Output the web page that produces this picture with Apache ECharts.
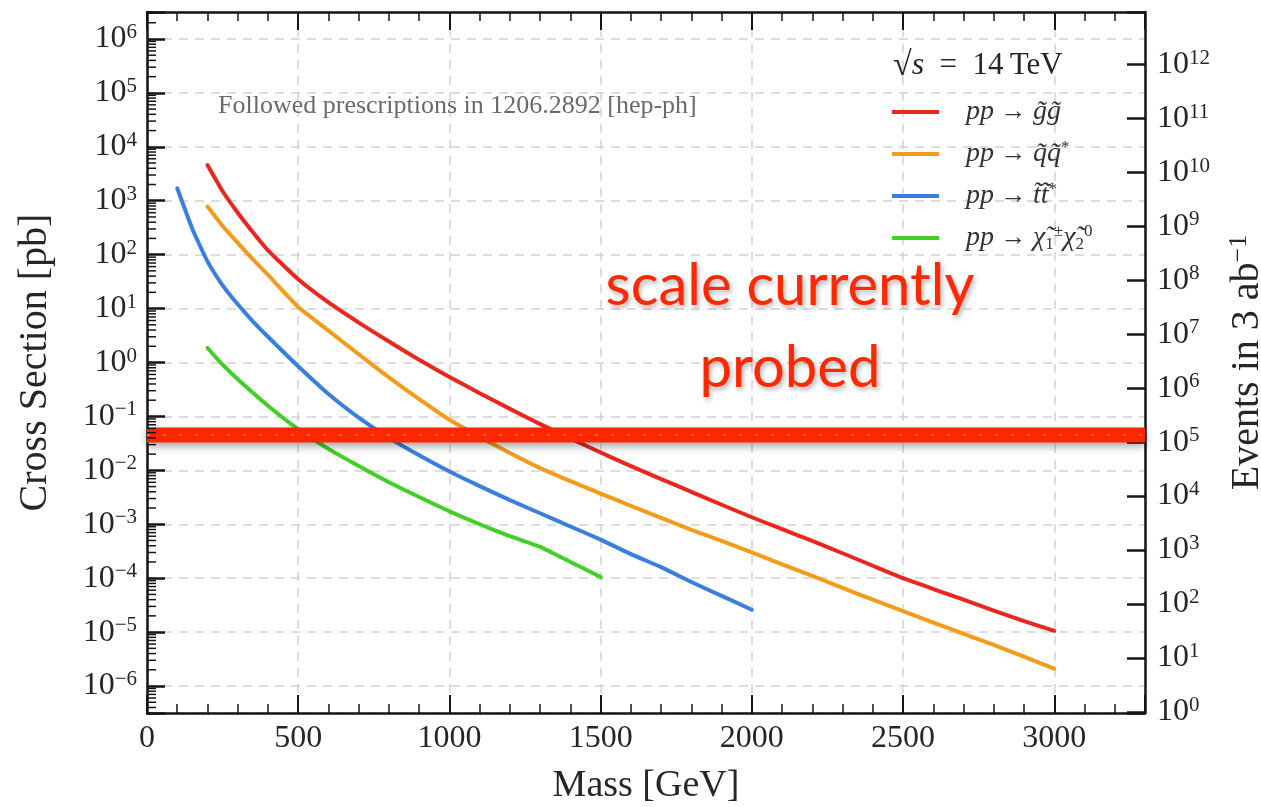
<!DOCTYPE html>
<html>
<head>
<meta charset="utf-8">
<script src="https://cdn.jsdelivr.net/npm/echarts@6/dist/echarts.min.js"></script>
<style>
  html, body { margin: 0; padding: 0; background: #ffffff; }
  #chart { width: 1261px; height: 807px; }
</style>
</head>
<body>
<div id="chart"></div>
<script>
// SUSY pair-production cross sections at sqrt(s) = 14 TeV versus sparticle mass.
const SERIF = '"Liberation Serif", "DejaVu Serif", "Times New Roman", serif';

// Integrated luminosity of 3 ab^-1 expressed in pb^-1 (events = sigma[pb] * lumi)
const LUMI_INV_PB = 3e6;

// Vertical range of the cross-section axis, in decades (log10 pb)
const Y_LOG_MIN = -6.5;
const Y_LOG_MAX = 6.5;
const X_MIN = 0;
const X_MAX = 3300;

// pp -> gluino gluino
const massGluino = [200, 250, 300, 350, 400, 500, 600, 700, 800, 900, 1000, 1100, 1200, 1300, 1400, 1500,
  1600, 1700, 1800, 1900, 2000, 2100, 2200, 2300, 2400, 2500, 2600, 2700, 2800, 2900, 3000];
const xsecGluino = [4.6e3, 1.5e3, 6.0e2, 2.6e2, 1.2e2, 35, 13, 5.5, 2.45, 1.12, 0.54, 0.27, 0.138, 0.072, 0.039, 0.0214,
  0.012, 6.9e-3, 4.0e-3, 2.3e-3, 1.35e-3, 8.1e-4, 4.9e-4, 2.9e-4, 1.7e-4, 1.0e-4, 6.3e-5, 4.0e-5, 2.5e-5, 1.6e-5, 1.05e-5];

// pp -> squark antisquark
const massSquark = [200, 250, 300, 350, 400, 500, 600, 700, 800, 900, 1000, 1100, 1200, 1300, 1400, 1500,
  1600, 1700, 1800, 1900, 2000, 2100, 2200, 2300, 2400, 2500, 2600, 2700, 2800, 2900, 3000];
const xsecSquark = [780, 340, 166, 82, 42, 10.7, 3.9, 1.42, 0.53, 0.21, 0.087, 0.042, 0.021, 0.011, 6.3e-3, 3.7e-3,
  2.2e-3, 1.32e-3, 7.9e-4, 4.9e-4, 3.0e-4, 1.8e-4, 1.1e-4, 6.6e-5, 4.0e-5, 2.45e-5, 1.5e-5, 9.3e-6, 5.8e-6, 3.5e-6, 2.1e-6];

// pp -> stop antistop
const massStop = [100, 150, 200, 250, 300, 350, 400, 500, 600, 700, 800, 900, 1000, 1100, 1200, 1300, 1400, 1500,
  1600, 1700, 1800, 1900, 2000];
const xsecStop = [1.7e3, 300, 75, 27, 12, 5.8, 3.0, 0.85, 0.26, 0.095, 0.04, 0.019, 9.5e-3, 5.1e-3, 2.8e-3, 1.6e-3, 9.1e-4, 5.2e-4,
  2.8e-4, 1.6e-4, 8.5e-5, 4.7e-5, 2.6e-5];

// pp -> chargino1 neutralino2
const massEwkino = [200, 250, 300, 400, 500, 600, 700, 800, 900, 1000, 1100, 1200, 1300, 1400, 1500];
const xsecEwkino = [1.86, 0.91, 0.49, 0.158, 0.058, 0.025, 0.012, 6.0e-3, 3.2e-3, 1.74e-3, 1.0e-3, 6.0e-4, 3.8e-4, 2.0e-4, 1.05e-4];

// Cross section of the horizontal "currently probed" band, in pb
const probedXsec = 0.045;

const seriesNames = [
  'pp \u2192 g\u0303g\u0303',
  'pp \u2192 q\u0303q\u0303*',
  'pp \u2192 t\u0303t\u0303*',
  'pp \u2192 \u03c7\u0303\u2081\u00b1\u03c7\u0303\u2082\u2070'
];
const seriesColors = ['#e8281f', '#f39c1c', '#3b7fdd', '#43cf27'];

// Rich-text legend labels (italic math with super/subscripts)
const legendRich = [
  '{ip|pp}{a| \u2192 }{i|g\u0303g\u0303}',
  '{ip|pp}{a| \u2192 }{i|q\u0303q\u0303}{sup|*}',
  '{ip|pp}{a| \u2192 }{i|t\u0303t\u0303}{sup|*}',
  '{ip|pp}{a| \u2192 }{i|\u03c7\u0303}{sub|1}{sup|\u00b1}{i|\u03c7\u0303}{sub|2}{sup|0}'
];

const toLogPairs = (xs, ys) => xs.map((m, i) => [m, Math.log10(ys[i])]);
const curves = [
  toLogPairs(massGluino, xsecGluino),
  toLogPairs(massSquark, xsecSquark),
  toLogPairs(massStop, xsecStop),
  toLogPairs(massEwkino, xsecEwkino)
];

const LOG_LUMI = Math.log10(LUMI_INV_PB);

function powerLabel(v) {
  const n = Math.round(v);
  if (Math.abs(v - n) > 1e-6) return '';
  const exp = n < 0 ? '\u2212' + (-n) : String(n);
  return '{b|10}{e|' + exp + '}';
}
const powerRich = {
  b: { fontFamily: SERIF, fontSize: 32, color: '#262626', lineHeight: 34 },
  e: { fontFamily: SERIF, fontSize: 21, color: '#262626', lineHeight: 20, verticalAlign: 'top' }
};

const AXIS_COLOR = '#151515';
const axisLine = { show: true, onZero: false, lineStyle: { color: AXIS_COLOR, width: 2.5 } };

const chart = echarts.init(document.getElementById('chart'), null, { renderer: 'canvas' });

const series = curves.map((data, i) => ({
  name: seriesNames[i],
  type: 'line',
  data: data,
  xAxisIndex: 0,
  yAxisIndex: 0,
  showSymbol: false,
  symbol: 'none',
  smooth: 0.15,
  lineStyle: { color: seriesColors[i], width: 4, join: 'round', cap: 'round' },
  itemStyle: { color: seriesColors[i] },
  z: 3
}));

// Thick marker-pen band marking the presently probed cross section
series.push({
  name: 'probed',
  type: 'line',
  data: [[X_MIN, Math.log10(probedXsec)], [X_MAX, Math.log10(probedXsec)]],
  symbol: 'none',
  silent: true,
  lineStyle: {
    color: '#ff2600', width: 15,
    shadowBlur: 8, shadowColor: 'rgba(0,0,0,0.35)', shadowOffsetY: 4
  },
  z: 10
});
// Speckled texture over the band
series.push({
  name: 'probed-texture',
  type: 'line',
  data: [[X_MIN, Math.log10(probedXsec)], [X_MAX, Math.log10(probedXsec)]],
  symbol: 'none',
  silent: true,
  lineStyle: { color: 'rgba(255,190,175,0.4)', width: 2, type: [3, 13] },
  z: 11
});

const option = {
  backgroundColor: '#ffffff',
  animation: false,
  grid: { left: 147, right: 116, top: 12, bottom: 94, containLabel: false, outerBoundsMode: 'none' },
  legend: {
    data: seriesNames,
    orient: 'vertical',
    left: 887,
    top: 93,
    itemWidth: 47,
    itemHeight: 4,
    itemGap: 13,
    icon: 'rect',
    selectedMode: false,
    formatter: name => legendRich[seriesNames.indexOf(name)],
    textStyle: {
      color: '#333',
      rich: {
        ip: { fontFamily: SERIF, fontStyle: 'italic', fontSize: 28, color: '#333', lineHeight: 30, padding: [0, 0, 0, 22] },
        i: { fontFamily: SERIF, fontStyle: 'italic', fontSize: 28, color: '#333', lineHeight: 30 },
        a: { fontFamily: SERIF, fontSize: 26, color: '#333', lineHeight: 30 },
        sup: { fontFamily: SERIF, fontSize: 17, color: '#333', lineHeight: 16, verticalAlign: 'top' },
        sub: { fontFamily: SERIF, fontSize: 17, color: '#333', lineHeight: 16, verticalAlign: 'bottom' }
      }
    }
  },
  xAxis: [
    {
      type: 'value',
      position: 'bottom',
      min: X_MIN, max: X_MAX, interval: 500,
      name: 'Mass [GeV]',
      nameLocation: 'middle',
      nameGap: 54,
      nameTextStyle: { fontFamily: SERIF, fontSize: 38, color: '#262626' },
      axisLine: axisLine,
      axisTick: { show: true, inside: true, length: 18, lineStyle: { color: AXIS_COLOR, width: 2 } },
      minorTick: { show: true, splitNumber: 5, length: 9, lineStyle: { color: AXIS_COLOR, width: 1.5 } },
      axisLabel: {
        margin: 10,
        fontFamily: SERIF, fontSize: 32, color: '#262626',
        formatter: v => (v % 500 === 0 ? String(v) : '')
      },
      splitLine: { show: true, lineStyle: { color: '#d2d2d2', width: 1.5, type: [9, 7] } }
    },
    {
      type: 'value',
      position: 'top',
      min: X_MIN, max: X_MAX, interval: 500,
      axisLine: axisLine,
      axisTick: { show: true, inside: true, length: 18, lineStyle: { color: AXIS_COLOR, width: 2 } },
      minorTick: { show: true, splitNumber: 5, length: 9, lineStyle: { color: AXIS_COLOR, width: 1.5 } },
      axisLabel: { show: false },
      splitLine: { show: false }
    }
  ],
  yAxis: [
    {
      type: 'value',
      position: 'left',
      min: Y_LOG_MIN, max: Y_LOG_MAX,
      splitNumber: 13, minInterval: 1, maxInterval: 1,
      name: 'Cross Section [pb]',
      nameLocation: 'middle',
      nameGap: 92,
      nameTextStyle: { fontFamily: SERIF, fontSize: 40, color: '#262626' },
      axisLine: axisLine,
      axisTick: { show: true, inside: true, length: 18, lineStyle: { color: AXIS_COLOR, width: 2.5 } },
      axisLabel: { margin: 10, formatter: powerLabel, rich: powerRich },
      splitLine: { show: true, lineStyle: { color: '#d2d2d2', width: 1.5, type: [9, 7] } }
    },
    {
      type: 'value',
      position: 'right',
      min: Y_LOG_MIN + LOG_LUMI, max: Y_LOG_MAX + LOG_LUMI,
      splitNumber: 13, minInterval: 1, maxInterval: 1,
      name: '{t|Events in 3 ab}{s|\u22121}',
      nameLocation: 'middle',
      nameGap: 81,
      nameTextStyle: {
        rich: {
          t: { fontFamily: SERIF, fontSize: 40, color: '#262626', lineHeight: 42 },
          s: { fontFamily: SERIF, fontSize: 26, color: '#262626', lineHeight: 24, verticalAlign: 'top' }
        }
      },
      axisLine: axisLine,
      axisTick: { show: true, inside: true, length: 18, lineStyle: { color: AXIS_COLOR, width: 2.5 } },
      axisLabel: { margin: 12, formatter: powerLabel, rich: powerRich },
      splitLine: { show: false }
    }
  ],
  series: series
};

chart.setOption(option);

// Text annotations inside the plotting area
const annotations = [
  {
    type: 'text', x: 893, y: 66, z: 20, silent: true,
    style: {
      text: '{r|\u221a}{s|s}{t|  =  14\u2009TeV}',
      verticalAlign: 'middle', textVerticalAlign: 'middle',
      rich: {
        r: { fontFamily: SERIF, fontSize: 34, fill: '#262626', lineHeight: 36 },
        s: { fontFamily: SERIF, fontStyle: 'italic', fontSize: 32, fill: '#262626', lineHeight: 36 },
        t: { fontFamily: SERIF, fontSize: 31, fill: '#262626', lineHeight: 36 }
      }
    }
  },
  {
    type: 'text', x: 218, y: 106, z: 20, silent: true,
    style: {
      text: 'Followed prescriptions in 1206.2892 [hep-ph]',
      font: '26px ' + SERIF,
      fill: '#6a6a6a',
      verticalAlign: 'middle', textVerticalAlign: 'middle'
    }
  },
  {
    type: 'text', x: 790, y: 327, z: 20, silent: true,
    style: {
      text: 'scale currently\nprobed',
      font: '58px Lato, "Open Sans", sans-serif',
      fill: '#ff2800',
      lineHeight: 82,
      align: 'center', textAlign: 'center',
      verticalAlign: 'middle', textVerticalAlign: 'middle',
      textShadowColor: 'rgba(0,0,0,0.3)', textShadowBlur: 5, textShadowOffsetX: 2, textShadowOffsetY: 3,
      shadowColor: 'rgba(0,0,0,0.3)', shadowBlur: 5, shadowOffsetX: 2, shadowOffsetY: 3
    }
  }
];

// Logarithmic minor ticks (2..9 in each decade) on the cross-section axis
const minorTicks = [];
const x0 = chart.convertToPixel({ xAxisIndex: 0 }, X_MIN);
for (let n = Math.floor(Y_LOG_MIN); n <= Math.ceil(Y_LOG_MAX); n++) {
  for (let k = 2; k <= 9; k++) {
    const v = n + Math.log10(k);
    if (v <= Y_LOG_MIN || v >= Y_LOG_MAX) continue;
    const y = chart.convertToPixel({ yAxisIndex: 0 }, v);
    minorTicks.push({
      type: 'line', silent: true, z: 15,
      shape: { x1: x0, y1: y, x2: x0 + 9, y2: y },
      style: { stroke: AXIS_COLOR, lineWidth: 1.5 }
    });
  }
}

chart.setOption({ graphic: annotations.concat(minorTicks) });
</script>
</body>
</html>
